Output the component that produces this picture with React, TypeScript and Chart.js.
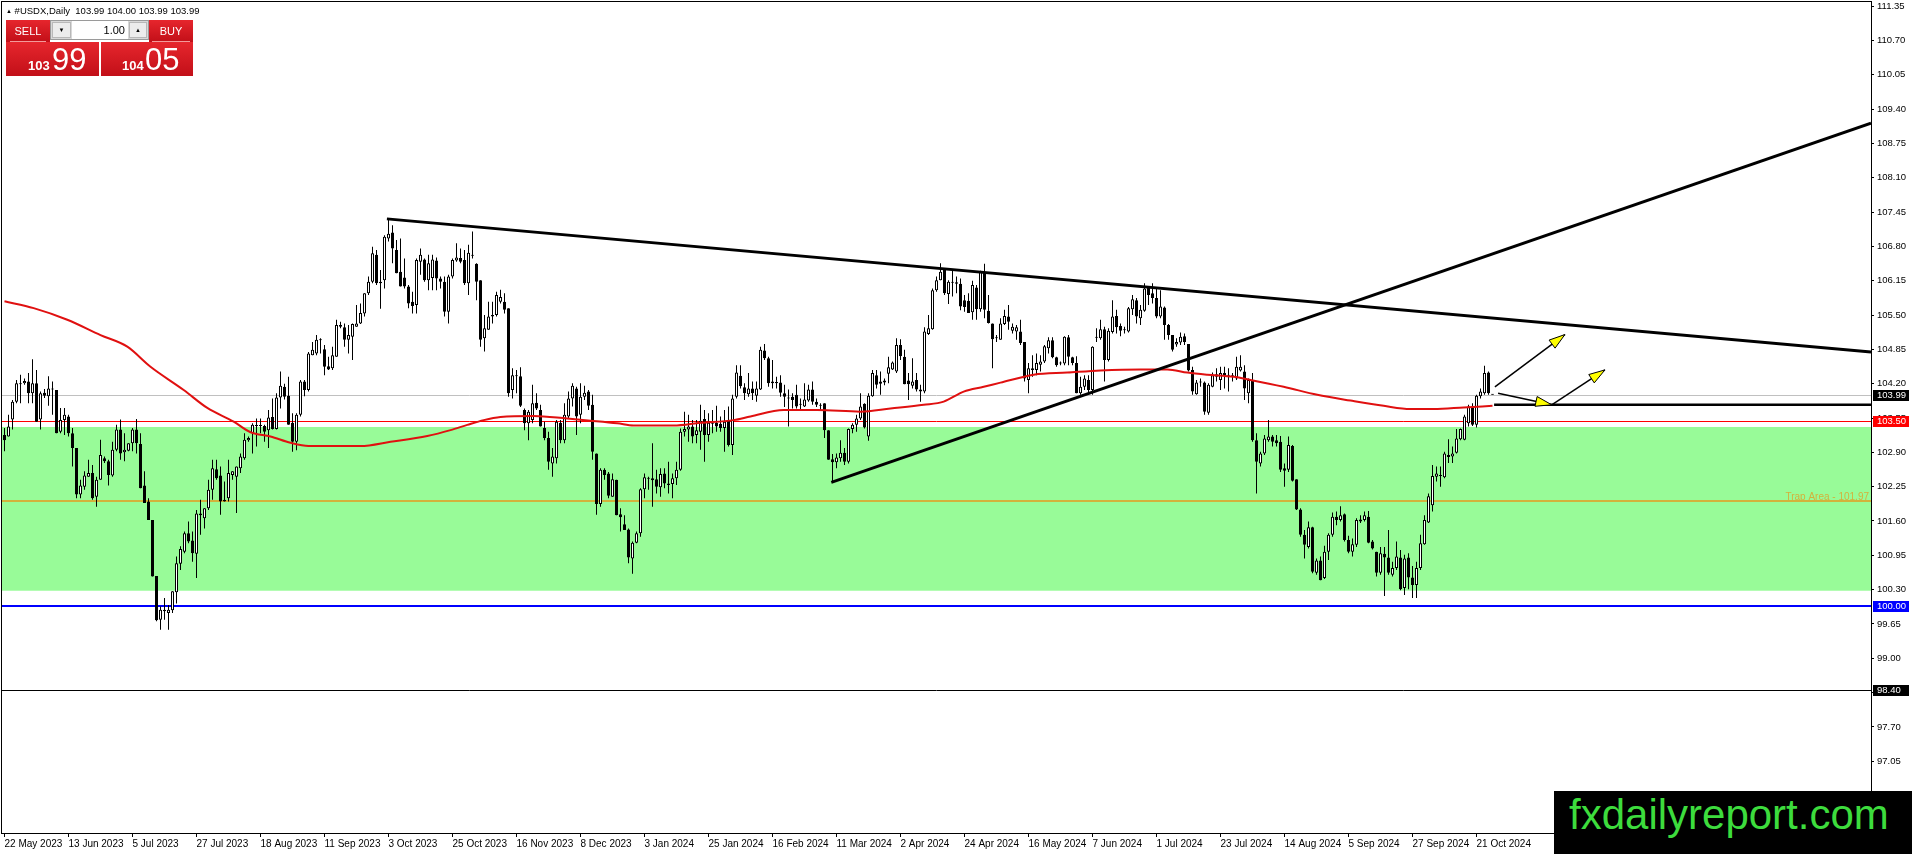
import { useEffect, useRef } from "react";
import { Chart, registerables } from "chart.js";

Chart.register(...registerables);

const FONT = '"Liberation Sans", Arial, sans-serif';

// header / quote panel
const symbolTitle = "#USDX,Daily";
const headerQuote = "103.99 104.00 103.99 103.99";
const lotSize = "1.00";
const bidBig = ["103", "99"];
const askBig = ["104", "05"];

// one label every 16 daily bars
const dateLabels = [
  "22 May 2023", "13 Jun 2023", "5 Jul 2023", "27 Jul 2023", "18 Aug 2023", "11 Sep 2023",
  "3 Oct 2023", "25 Oct 2023", "16 Nov 2023", "8 Dec 2023", "3 Jan 2024", "25 Jan 2024",
  "16 Feb 2024", "11 Mar 2024", "2 Apr 2024", "24 Apr 2024", "16 May 2024", "7 Jun 2024",
  "1 Jul 2024", "23 Jul 2024", "14 Aug 2024", "5 Sep 2024", "27 Sep 2024", "21 Oct 2024",
];
const barsPerLabel = 16;

const priceTicks = [
  111.35, 110.7, 110.05, 109.4, 108.75, 108.1, 107.45, 106.8, 106.15, 105.5, 104.85, 104.2,
  103.55, 102.9, 102.25, 101.6, 100.95, 100.3, 99.65, 99.0, 98.35, 97.7, 97.05, 96.4,
];

const opens = [
  103.23, 103.2, 103.52, 103.86, 104.19, 104.21, 104.24, 104.02, 104.21, 103.52,
  104.03, 103.96, 104.09, 104.08, 103.29, 103.51, 103.58, 103.26, 102.98, 102.1,
  102.25, 102.44, 102.51, 102.06, 102.38, 102.79, 102.73, 102.46, 102.95, 103.33,
  102.9, 102.93, 103.07, 103.33, 103.06, 102.27, 101.97, 101.62, 100.56, 99.73,
  99.89, 99.86, 99.91, 100.25, 100.79, 101.02, 101.37, 101.23, 100.98, 101.71,
  101.65, 101.84, 102.19, 102.58, 102.46, 101.97, 102.03, 102.47, 102.44, 102.6,
  102.79, 103.13, 103.26, 103.4, 103.4, 103.4, 103.32, 103.57, 103.34, 103.94,
  104.14, 103.97, 103.46, 103.1, 103.61, 104.24, 104.08, 104.74, 104.77, 105.02,
  104.85, 104.53, 104.49, 104.71, 105.31, 105.27, 105.03, 105.09, 105.28, 105.34,
  105.53, 105.91, 106.13, 106.64, 106.1, 106.16, 106.95, 107.06, 106.73, 106.32,
  106.21, 106.04, 105.75, 105.69, 106.51, 106.55, 106.16, 106.2, 106.53, 106.19,
  106.13, 105.56, 106.23, 106.53, 106.58, 106.54, 106.1, 106.64, 106.47, 106.16,
  105.06, 105.22, 105.5, 105.5, 105.75, 105.75, 105.63, 104.08, 104.35, 104.34,
  103.7, 103.45, 103.51, 103.84, 103.7, 103.36, 103.17, 102.69, 102.79, 103.46,
  103.13, 103.58, 103.92, 104.11, 103.61, 103.95, 104.05, 103.8, 102.88, 101.92,
  102.57, 102.5, 102.06, 102.38, 101.73, 101.54, 101.44, 100.89, 101.19, 101.37,
  102.2, 102.4, 102.37, 102.39, 102.24, 102.5, 102.31, 102.3, 102.41, 102.57,
  103.29, 103.33, 103.39, 103.23, 103.29, 103.53, 103.23, 103.46, 103.46, 103.44,
  103.36, 103.51, 103.04, 103.95, 104.35, 104.13, 104.0, 104.11, 103.97, 104.09,
  104.83, 104.68, 104.21, 104.23, 104.22, 104.02, 103.94, 103.95, 103.99, 103.8,
  103.77, 103.88, 104.09, 103.86, 103.8, 103.83, 103.32, 102.77, 102.71, 102.79,
  102.89, 102.72, 103.34, 103.42, 103.54, 103.82, 103.2, 103.96, 104.36, 104.24,
  104.22, 104.39, 104.47, 104.43, 104.93, 104.71, 104.26, 104.16, 104.27, 104.09,
  104.05, 105.14, 105.23, 105.97, 106.16, 106.35, 105.9, 106.13, 106.12, 106.09,
  105.78, 105.77, 105.55, 106.02, 105.61, 106.32, 105.58, 105.34, 105.06, 105.03,
  105.33, 105.47, 105.2, 105.19, 105.19, 104.99, 104.27, 104.46, 104.46, 104.56,
  104.62, 104.87, 105.02, 104.7, 104.58, 104.58, 105.08, 104.7, 104.59, 104.02,
  104.14, 104.27, 104.08, 105.07, 105.06, 105.23, 104.65, 105.18, 105.48, 105.29,
  105.21, 105.19, 105.61, 105.78, 105.44, 105.58, 106.02, 105.91, 105.82, 105.47,
  105.64, 105.31, 105.12, 104.94, 104.98, 105.1, 104.95, 104.46, 104.0, 104.22,
  104.22, 103.65, 104.14, 104.33, 104.27, 104.4, 104.35, 104.34, 104.3, 104.45,
  104.43, 104.02, 104.27, 103.13, 102.69, 102.88, 103.13, 103.2, 103.13, 103.1,
  102.6, 102.57, 103.02, 102.39, 101.82, 101.34, 101.11, 101.48, 100.62, 100.85,
  100.52, 101.02, 101.34, 101.68, 101.62, 101.73, 101.24, 101.02, 101.15, 101.59,
  101.62, 101.68, 101.21, 101.02, 100.62, 100.98, 100.91, 100.58, 100.71, 100.91,
  100.33, 100.91, 100.53, 100.39, 100.71, 101.16, 101.57, 101.9, 102.44, 102.45,
  102.43, 102.85, 102.82, 102.89, 103.15, 103.14, 103.45, 103.77, 103.42, 103.96,
  104.02, 104.41, 103.99,
];

const highs = [
  103.36, 103.61, 103.89, 104.27, 104.37, 104.3, 104.4, 104.66, 104.46, 104.05,
  104.1, 104.34, 104.24, 104.08, 103.74, 103.74, 103.61, 103.36, 102.98, 102.38,
  102.54, 102.76, 102.66, 102.44, 103.14, 102.82, 102.76, 103.1, 103.42, 103.52,
  103.26, 103.07, 103.36, 103.53, 103.26, 102.54, 102.03, 101.62, 100.56, 99.98,
  100.14, 100.01, 100.27, 100.93, 101.12, 101.4, 101.59, 101.4, 101.81, 102.0,
  101.84, 102.38, 102.76, 102.76, 102.63, 102.35, 102.76, 102.54, 102.63, 102.88,
  103.26, 103.2, 103.45, 103.54, 103.54, 103.42, 103.7, 103.92, 104.02, 104.43,
  104.2, 104.33, 103.64, 103.64, 104.27, 104.27, 104.8, 104.99, 105.12, 105.06,
  104.93, 104.71, 104.9, 105.41, 105.37, 105.34, 105.31, 105.34, 105.69, 105.72,
  105.91, 106.23, 106.79, 106.73, 106.35, 107.01, 107.3, 107.2, 106.92, 106.95,
  106.57, 106.07, 105.94, 106.57, 106.76, 106.57, 106.64, 106.64, 106.59, 106.23,
  106.23, 106.26, 106.57, 106.86, 106.76, 106.73, 106.83, 107.08, 106.48, 106.16,
  105.5, 105.75, 105.75, 105.94, 105.98, 105.91, 105.63, 104.49, 104.46, 104.51,
  103.73, 103.7, 104.18, 104.02, 103.8, 103.48, 103.29, 102.98, 103.51, 103.51,
  103.83, 104.05, 104.21, 104.14, 104.21, 104.16, 104.08, 103.99, 102.88, 102.6,
  102.6, 102.53, 102.5, 102.38, 101.84, 101.71, 101.46, 101.21, 101.4, 102.22,
  102.5, 102.44, 103.07, 102.57, 102.6, 102.6, 102.72, 102.5, 102.72, 103.35,
  103.67, 103.61, 103.51, 103.51, 103.8, 103.7, 103.64, 103.7, 103.78, 103.58,
  103.7, 103.77, 103.99, 104.55, 104.55, 104.21, 104.4, 104.24, 104.24, 104.9,
  104.95, 104.71, 104.65, 104.33, 104.36, 104.18, 104.09, 104.02, 104.18, 103.92,
  104.21, 104.18, 104.24, 103.92, 103.83, 103.83, 103.32, 102.87, 102.88, 103.13,
  102.98, 103.35, 103.45, 103.61, 104.02, 103.83, 104.02, 104.46, 104.46, 104.43,
  104.3, 104.71, 104.62, 105.06, 105.04, 104.84, 104.4, 104.68, 104.4, 104.18,
  105.27, 105.5, 106.0, 106.23, 106.48, 106.38, 106.16, 106.37, 106.23, 106.19,
  105.88, 105.91, 106.15, 106.07, 106.34, 106.47, 105.88, 105.34, 105.12, 105.44,
  105.6, 105.69, 105.34, 105.31, 105.41, 104.99, 104.59, 104.74, 104.77, 104.74,
  104.93, 105.08, 105.08, 104.71, 104.62, 105.1, 105.12, 104.71, 104.72, 104.33,
  104.36, 104.36, 104.91, 105.25, 105.41, 105.28, 105.25, 105.78, 105.6, 105.34,
  105.28, 105.65, 105.88, 105.82, 105.69, 106.1, 106.05, 106.1, 106.0, 105.97,
  105.66, 105.33, 105.12, 105.06, 105.17, 105.15, 104.95, 104.52, 104.27, 104.3,
  104.24, 104.21, 104.41, 104.49, 104.52, 104.52, 104.49, 104.4, 104.71, 104.74,
  104.55, 104.3, 104.4, 103.26, 102.91, 103.23, 103.51, 103.23, 103.23, 103.21,
  102.69, 103.2, 103.04, 102.39, 101.84, 101.43, 101.59, 101.49, 100.89, 100.93,
  101.13, 101.37, 101.76, 101.78, 101.88, 101.74, 101.32, 101.27, 101.65, 101.71,
  101.78, 101.79, 101.24, 101.02, 101.11, 101.11, 101.43, 100.83, 101.21, 101.05,
  100.96, 100.99, 100.75, 100.83, 101.34, 101.71, 102.12, 102.66, 102.63, 102.63,
  102.91, 103.15, 103.01, 103.34, 103.35, 103.61, 103.8, 103.83, 103.99, 104.11,
  104.54, 104.43, 104.0,
];

const lows = [
  102.92, 103.2, 103.33, 103.83, 103.83, 104.18, 103.83, 103.83, 103.48, 103.33,
  103.93, 103.78, 103.61, 103.26, 103.26, 103.23, 103.2, 102.63, 102.03, 102.03,
  102.19, 102.44, 102.0, 101.87, 102.38, 102.7, 102.27, 102.44, 102.92, 102.76,
  102.73, 102.92, 102.92, 102.88, 102.22, 101.94, 101.62, 100.55, 99.7, 99.54,
  99.73, 99.54, 99.86, 100.04, 100.67, 100.99, 101.18, 100.83, 100.52, 101.34,
  101.46, 101.81, 102.0, 102.38, 101.72, 101.97, 101.97, 102.38, 101.75, 102.51,
  102.76, 103.1, 102.88, 103.01, 103.26, 103.1, 102.98, 103.33, 103.33, 103.73,
  103.9, 103.42, 102.91, 102.94, 103.58, 103.96, 104.05, 104.74, 104.74, 104.77,
  104.36, 104.46, 104.46, 104.71, 105.25, 104.9, 104.77, 104.65, 105.28, 105.33,
  105.47, 105.88, 106.1, 106.07, 105.62, 106.0, 106.89, 106.48, 106.29, 106.04,
  106.0, 105.63, 105.53, 105.53, 106.26, 106.13, 105.97, 105.97, 105.97, 106.0,
  105.47, 105.34, 106.19, 106.51, 106.48, 106.07, 105.88, 106.57, 105.78, 104.9,
  104.81, 105.22, 105.34, 105.47, 105.72, 105.53, 103.95, 103.92, 104.02, 103.76,
  103.32, 103.13, 103.45, 103.7, 103.39, 103.13, 102.57, 102.44, 102.69, 103.07,
  103.07, 103.54, 103.77, 103.23, 103.45, 103.89, 103.7, 102.76, 101.72, 101.87,
  102.38, 102.03, 102.06, 101.71, 101.4, 101.43, 100.8, 100.6, 101.18, 101.3,
  102.03, 102.19, 101.87, 102.12, 102.06, 102.22, 102.12, 102.03, 102.28, 102.55,
  103.2, 103.1, 103.07, 103.07, 102.95, 102.72, 103.1, 103.26, 103.29, 103.29,
  102.91, 103.01, 102.85, 103.92, 104.11, 103.89, 103.95, 103.89, 103.86, 104.08,
  104.65, 104.14, 104.11, 104.11, 103.95, 103.76, 103.39, 103.73, 103.73, 103.7,
  103.76, 103.86, 103.8, 103.76, 103.7, 103.17, 102.76, 102.33, 102.6, 102.72,
  102.66, 102.69, 103.26, 103.29, 103.51, 103.35, 103.12, 103.95, 104.11, 103.99,
  104.17, 104.21, 104.46, 104.4, 104.65, 104.19, 103.89, 104.11, 104.05, 103.86,
  104.02, 105.12, 105.22, 105.94, 106.16, 105.88, 105.71, 105.85, 105.91, 105.59,
  105.56, 105.54, 105.41, 105.41, 105.56, 105.44, 105.34, 104.49, 104.99, 105.03,
  105.31, 105.22, 105.15, 105.03, 104.93, 104.24, 104.02, 104.33, 104.36, 104.43,
  104.59, 104.77, 104.68, 104.52, 104.55, 104.55, 104.55, 104.55, 104.02, 103.99,
  104.08, 104.02, 103.99, 104.99, 105.03, 104.24, 104.62, 105.15, 105.15, 105.1,
  105.15, 105.17, 105.5, 105.34, 105.31, 105.56, 105.69, 105.72, 105.44, 105.44,
  105.03, 105.03, 104.81, 104.9, 104.93, 104.93, 104.43, 103.99, 103.99, 104.14,
  103.61, 103.61, 104.13, 104.24, 104.08, 104.11, 104.05, 104.24, 104.27, 104.43,
  103.89, 103.83, 103.1, 102.12, 102.63, 102.85, 103.1, 103.01, 103.01, 102.53,
  102.25, 102.53, 102.35, 101.81, 101.3, 100.89, 101.08, 100.61, 100.58, 100.48,
  100.5, 100.86, 101.3, 101.52, 101.59, 101.21, 100.99, 100.93, 101.11, 101.56,
  101.59, 101.18, 101.06, 100.55, 100.58, 100.18, 100.58, 100.55, 100.67, 100.29,
  100.2, 100.31, 100.14, 100.14, 100.67, 101.15, 101.56, 101.78, 102.35, 102.25,
  102.41, 102.7, 102.7, 102.88, 103.13, 103.13, 103.39, 103.4, 103.37, 103.92,
  103.99, 103.99, 103.99,
];

const closes = [
  103.13, 103.39, 103.86, 104.21, 104.2, 104.25, 104.02, 104.21, 103.48, 104.02,
  103.97, 104.11, 104.1, 103.26, 103.51, 103.61, 103.26, 102.98, 102.1, 102.27,
  102.46, 102.51, 102.03, 102.38, 102.85, 102.73, 102.47, 102.95, 103.33, 102.88,
  102.95, 103.07, 103.33, 103.07, 102.22, 101.94, 101.62, 100.55, 99.72, 99.92,
  99.92, 99.92, 100.27, 100.8, 101.07, 101.37, 101.21, 100.99, 101.74, 101.74,
  101.84, 102.19, 102.6, 102.41, 101.97, 102.0, 102.51, 102.54, 102.63, 102.82,
  103.14, 103.17, 103.42, 103.41, 103.4, 103.29, 103.56, 103.34, 103.94, 104.16,
  103.95, 103.42, 103.1, 103.61, 104.24, 104.08, 104.77, 104.84, 105.03, 105.04,
  104.52, 104.47, 104.74, 105.31, 105.28, 105.03, 105.12, 105.33, 105.34, 105.54,
  105.91, 106.13, 106.67, 106.1, 106.13, 106.98, 107.04, 106.76, 106.29, 106.04,
  106.04, 105.72, 105.67, 106.54, 106.64, 106.16, 106.48, 106.55, 106.19, 106.13,
  105.56, 106.23, 106.54, 106.59, 106.51, 106.1, 106.68, 106.62, 106.13, 105.03,
  105.25, 105.47, 105.47, 105.88, 105.84, 105.6, 104.02, 104.36, 104.34, 103.78,
  103.45, 103.67, 103.83, 103.73, 103.39, 103.17, 102.72, 102.82, 103.48, 103.13,
  103.61, 103.92, 104.16, 103.58, 103.95, 104.03, 103.78, 102.91, 101.92, 102.57,
  102.47, 102.08, 102.39, 101.71, 101.67, 101.43, 100.91, 101.19, 101.37, 102.2,
  102.43, 102.41, 102.41, 102.25, 102.49, 102.31, 102.28, 102.41, 102.57, 103.29,
  103.34, 103.39, 103.2, 103.32, 103.5, 103.23, 103.46, 103.44, 103.39, 103.36,
  103.48, 103.04, 103.92, 104.41, 104.15, 104.02, 104.11, 104.02, 104.11, 104.84,
  104.68, 104.21, 104.24, 104.21, 104.03, 103.95, 103.92, 103.89, 103.77, 103.8,
  103.9, 104.09, 103.86, 103.8, 103.78, 103.32, 102.76, 102.71, 102.8, 102.89,
  102.72, 103.34, 103.42, 103.54, 103.77, 103.37, 103.97, 104.4, 104.18, 104.2,
  104.26, 104.51, 104.6, 104.93, 104.72, 104.19, 104.19, 104.24, 104.09, 104.05,
  105.19, 105.25, 105.97, 106.16, 106.32, 105.91, 106.13, 106.11, 106.09, 105.66,
  105.65, 105.54, 106.07, 105.61, 106.32, 105.6, 105.35, 105.04, 105.06, 105.34,
  105.48, 105.37, 105.28, 105.27, 104.97, 104.3, 104.49, 104.49, 104.59, 104.62,
  104.91, 105.02, 104.7, 104.55, 104.59, 105.09, 104.71, 104.59, 104.02, 104.14,
  104.3, 104.08, 104.9, 105.08, 105.23, 104.65, 105.2, 105.47, 105.27, 105.2,
  105.22, 105.63, 105.8, 105.47, 105.6, 106.0, 105.88, 105.82, 105.47, 105.66,
  105.31, 105.12, 104.84, 104.99, 105.09, 104.99, 104.45, 104.05, 104.22, 104.23,
  103.67, 104.18, 104.36, 104.38, 104.4, 104.35, 104.37, 104.35, 104.52, 104.52,
  104.11, 104.27, 103.13, 102.72, 102.88, 103.16, 103.2, 103.1, 103.07, 102.57,
  102.55, 103.04, 102.36, 101.82, 101.34, 101.15, 101.48, 100.64, 100.85, 100.48,
  101.02, 101.34, 101.68, 101.62, 101.71, 101.24, 101.02, 101.16, 101.62, 101.63,
  101.71, 101.19, 101.08, 100.62, 100.99, 100.91, 100.62, 100.71, 100.93, 100.31,
  100.89, 100.53, 100.39, 100.71, 101.18, 101.62, 102.07, 102.45, 102.5, 102.47,
  102.88, 102.81, 102.88, 103.16, 103.34, 103.58, 103.77, 103.42, 103.97, 104.05,
  104.4, 104.02, 103.99,
];

// moving average (red), read at a few bar positions
const maBars = [
  0, 7.3, 15.7, 24, 30.7, 36.5, 44.8, 50.7, 57.3, 61.5, 66.5, 71.5, 76, 89, 96.5, 105.7, 111.5,
  115.7, 119.8, 124, 132.3, 140.7, 146.5, 153.2, 157.3, 167.3, 174, 182.3, 186.5, 194.8, 203.2,
  214, 221.5, 229.8, 234.8, 239.8, 244.8, 249, 257.3, 265.7, 274, 284, 290.7, 295.7, 300.7,
  307.3, 311.5, 319.8, 328.2, 336.5, 344.8, 351.5, 357.3, 364.8, 372,
];
const maValues = [
  105.76, 105.63, 105.41, 105.12, 104.9, 104.52, 104.08, 103.74, 103.48, 103.28, 103.2, 103.08,
  103.02, 103.02, 103.1, 103.21, 103.32, 103.42, 103.51, 103.57, 103.59, 103.54, 103.5, 103.45,
  103.41, 103.41, 103.46, 103.51, 103.58, 103.7, 103.7, 103.67, 103.73, 103.8, 103.86, 104.05,
  104.14, 104.22, 104.37, 104.41, 104.45, 104.47, 104.47, 104.41, 104.37, 104.33, 104.27, 104.14,
  103.99, 103.88, 103.78, 103.72, 103.72, 103.75, 103.78,
];

// drawn objects: [bar, price]
const xMin = -0.625;
const xMax = 466.625;
const resistanceLine = [[95.6, 107.32], [xMax, 104.8]];
const supportLine = [[206.7, 102.33], [xMax, 109.13]];
const entryLine = [[372.4, 103.8], [xMax, 103.8]];
const arrows = [
  [[372.6, 104.14], [390.1, 105.13]],
  [[373.4, 104.02], [386.8, 103.8]],
  [[386.8, 103.8], [400.1, 104.46]],
];

const bidPrice = 103.99;
const resistanceLevel = 103.5;
const trapLevel = 101.97;
const parityLevel = 100.0;
const supportLevel = 98.4;
const zoneTop = 103.38;
const zoneBottom = 100.28;

const trapColor = "#d2b23c";

const overlayPlugin = {
  id: "overlay",
  beforeDatasetsDraw(chart: any) {
    const { ctx, chartArea: a, scales } = chart;
    const y = scales.y;
    ctx.save();
    ctx.beginPath();
    ctx.rect(a.left, a.top, a.right - a.left, a.bottom - a.top);
    ctx.clip();
    const zt = y.getPixelForValue(zoneTop);
    const zb = y.getPixelForValue(zoneBottom);
    ctx.fillStyle = "#98fb98";
    ctx.fillRect(a.left, zt, a.right - a.left, zb - zt);
    const hline = (v: number, color: string, w: number) => {
      const py = Math.round(y.getPixelForValue(v)) + (w % 2 ? 0.5 : 0);
      ctx.strokeStyle = color;
      ctx.lineWidth = w;
      ctx.beginPath();
      ctx.moveTo(a.left, py);
      ctx.lineTo(a.right, py);
      ctx.stroke();
    };
    hline(bidPrice, "#c0c0c0", 1);
    hline(resistanceLevel, "#ff0000", 1);
    hline(trapLevel, trapColor, 2);
    hline(parityLevel, "#0000ff", 2);
    hline(supportLevel, "#000000", 1);
    ctx.fillStyle = trapColor;
    ctx.font = `10px ${FONT}`;
    ctx.textAlign = "right";
    ctx.textBaseline = "alphabetic";
    ctx.fillText(`Trap Area - ${trapLevel.toFixed(2)}`, a.right - 2, y.getPixelForValue(trapLevel) - 1.5);
    ctx.restore();
  },
  afterDatasetsDraw(chart: any) {
    const { ctx, scales } = chart;
    const { x, y } = scales;
    ctx.save();
    arrows.forEach(([p0, p1]) => {
      const x0 = x.getPixelForValue(p0[0]);
      const y0 = y.getPixelForValue(p0[1]);
      const x1 = x.getPixelForValue(p1[0]);
      const y1 = y.getPixelForValue(p1[1]);
      const ang = Math.atan2(y1 - y0, x1 - x0);
      const L = 16;
      const W = 5;
      const bx = x1 - L * Math.cos(ang);
      const by = y1 - L * Math.sin(ang);
      ctx.beginPath();
      ctx.moveTo(x1, y1);
      ctx.lineTo(bx + W * Math.sin(ang), by - W * Math.cos(ang));
      ctx.lineTo(bx - W * Math.sin(ang), by + W * Math.cos(ang));
      ctx.closePath();
      ctx.fillStyle = "#ffff00";
      ctx.fill();
      ctx.strokeStyle = "#000";
      ctx.lineWidth = 1;
      ctx.stroke();
    });
    ctx.restore();
  },
  afterDraw(chart: any) {
    const { ctx, chartArea: a, scales } = chart;
    const y = scales.y;
    ctx.save();
    ctx.strokeStyle = "#000";
    ctx.lineWidth = 1;
    ctx.strokeRect(a.left - 0.5, a.top - 0.5, a.right - a.left + 1, a.bottom - a.top + 1);
    const markers: [number, string][] = [
      [bidPrice, "#000000"],
      [resistanceLevel, "#ff0000"],
      [parityLevel, "#0000ff"],
      [supportLevel, "#000000"],
    ];
    ctx.font = `9.5px ${FONT}`;
    ctx.textAlign = "left";
    ctx.textBaseline = "middle";
    markers.forEach(([v, bg]) => {
      const py = Math.round(y.getPixelForValue(v));
      ctx.fillStyle = bg;
      ctx.fillRect(a.right + 2, py - 5, 36, 11);
      ctx.fillStyle = "#fff";
      ctx.fillText(v.toFixed(2), a.right + 6, py + 0.5);
    });
    ctx.restore();
  },
};

const redGrad = "linear-gradient(#e6262d, #c20f18)";

export default function App() {
  const canvasRef = useRef<HTMLCanvasElement>(null);

  useEffect(() => {
    const canvas = canvasRef.current;
    if (!canvas) return;

    const pts = (pairs: number[][]) => pairs.map(([px, py]) => ({ x: px, y: py }));
    const bodies = closes.map((c, i) => ({ x: i, y: [Math.min(opens[i], c), Math.max(opens[i], c)] }));
    const wicks = closes.map((_, i) => ({ x: i, y: [lows[i], highs[i]] }));
    const bodyColors = closes.map((c, i) => (c >= opens[i] ? "#ffffff" : "#000000"));
    const ma = maBars.map((b, i) => ({ x: b, y: maValues[i] }));

    const lineDs = (data: any, color: string, width: number, order: number) => ({
      type: "line" as const,
      data,
      borderColor: color,
      borderWidth: width,
      pointRadius: 0,
      fill: false,
      order,
    });

    const chart = new Chart(canvas, {
      type: "line",
      data: {
        datasets: [
          lineDs(pts(resistanceLine), "#000", 3, 0),
          lineDs(pts(supportLine), "#000", 3, 0),
          lineDs(pts(entryLine), "#000", 2.5, 1),
          ...arrows.map((a) => lineDs(pts(a), "#000", 1.5, 1)),
          { ...lineDs(ma, "#e01010", 2, 2), cubicInterpolationMode: "monotone" },
          {
            type: "bar",
            data: bodies,
            backgroundColor: bodyColors,
            borderColor: "#000",
            borderWidth: 1,
            borderSkipped: false,
            barThickness: 3,
            grouped: false,
            minBarLength: 1,
            inflateAmount: 0,
            order: 3,
          },
          {
            type: "bar",
            data: wicks,
            backgroundColor: "#000",
            borderWidth: 0,
            barThickness: 1,
            grouped: false,
            inflateAmount: 0,
            order: 4,
          },
        ] as any,
      },
      options: {
        animation: false,
        responsive: false,
        devicePixelRatio: 1,
        events: [],
        layout: { padding: { top: 2, left: 2, right: 0, bottom: 0 } },
        plugins: { legend: { display: false }, tooltip: { enabled: false } },
        scales: {
          x: {
            type: "linear",
            min: xMin,
            max: xMax,
            offset: false,
            afterBuildTicks: (s: any) => {
              s.ticks = dateLabels.map((_, i) => ({ value: i * barsPerLabel }));
            },
            afterFit: (s: any) => {
              s.height = 21;
              s.paddingLeft = 0;
              s.paddingRight = 0;
            },
            grid: { drawOnChartArea: false, drawTicks: true, tickLength: 4, color: "#000", offset: false },
            border: { display: true, color: "#000" },
            ticks: {
              autoSkip: false,
              maxRotation: 0,
              align: "start",
              padding: 1,
              color: "#000",
              font: { family: FONT, size: 10 },
              callback: (_v: any, i: number) => dateLabels[i],
            },
          },
          y: {
            type: "linear",
            position: "right",
            min: 95.693,
            max: 111.426,
            afterBuildTicks: (s: any) => {
              s.ticks = priceTicks.map((v) => ({ value: v }));
            },
            afterFit: (s: any) => {
              s.width = 41;
              s.paddingTop = 0;
              s.paddingBottom = 0;
            },
            grid: { drawOnChartArea: false, drawTicks: true, tickLength: 3, color: "#000" },
            border: { display: true, color: "#000" },
            ticks: {
              autoSkip: false,
              padding: 3,
              color: "#000",
              font: { family: FONT, size: 9.5 },
              callback: (v: any) => Number(v).toFixed(2),
            },
          },
        },
      } as any,
      plugins: [overlayPlugin],
    });

    return () => chart.destroy();
  }, []);

  const btnText = { position: "absolute" as const, color: "#fff", fontSize: 11, lineHeight: "11px" };

  return (
    <div
      style={{
        position: "absolute",
        left: 0,
        top: 0,
        width: 1912,
        height: 854,
        background: "#fff",
        overflow: "hidden",
        fontFamily: FONT,
      }}
    >
      <canvas ref={canvasRef} width={1912} height={854} style={{ position: "absolute", left: 0, top: 0 }} />

      {/* symbol header */}
      <div style={{ position: "absolute", left: 6, top: 5, fontSize: 9.5, lineHeight: "12px", whiteSpace: "pre", color: "#000" }}>
        <span style={{ fontSize: 6, verticalAlign: "1px" }}>▲</span> {symbolTitle}  {headerQuote}
      </div>

      {/* one click trading panel */}
      <div style={{ position: "absolute", left: 6, top: 20, width: 44, height: 22, background: redGrad }} />
      <div style={{ position: "absolute", left: 10, top: 41, width: 36, height: 1, background: "#f39a9a" }} />
      <div style={{ ...btnText, left: 6, top: 26, width: 44, textAlign: "center" }}>SELL</div>

      <div style={{ position: "absolute", left: 149, top: 20, width: 44, height: 22, background: redGrad }} />
      <div style={{ position: "absolute", left: 152, top: 41, width: 38, height: 1, background: "#f39a9a" }} />
      <div style={{ ...btnText, left: 149, top: 26, width: 44, textAlign: "center" }}>BUY</div>

      <div style={{ position: "absolute", left: 50, top: 20, width: 99, height: 20, background: "#d8d8d8", boxSizing: "border-box", border: "1px solid #9a9a9a" }} />
      <div style={{ position: "absolute", left: 52, top: 22, width: 19, height: 16, background: "#ececec", border: "1px solid #b8b8b8", boxSizing: "border-box", fontSize: 6, textAlign: "center", lineHeight: "15px" }}>▼</div>
      <div style={{ position: "absolute", left: 72, top: 21, width: 56, height: 18, background: "#fff" }} />
      <div style={{ position: "absolute", left: 72, top: 24, width: 53, textAlign: "right", fontSize: 11, lineHeight: "12px", color: "#000" }}>{lotSize}</div>
      <div style={{ position: "absolute", left: 129, top: 22, width: 18, height: 16, background: "#ececec", border: "1px solid #b8b8b8", boxSizing: "border-box", fontSize: 6, textAlign: "center", lineHeight: "15px" }}>▲</div>

      <div style={{ position: "absolute", left: 6, top: 42, width: 93, height: 34, background: redGrad }} />
      <div style={{ position: "absolute", left: 101, top: 42, width: 92, height: 34, background: redGrad }} />
      <div style={{ position: "absolute", left: 28, top: 59, color: "#fff", fontSize: 13, fontWeight: "bold", lineHeight: "13px" }}>{bidBig[0]}</div>
      <div style={{ position: "absolute", left: 52, top: 44, color: "#fff", fontSize: 31, lineHeight: "31px" }}>{bidBig[1]}</div>
      <div style={{ position: "absolute", left: 122, top: 59, color: "#fff", fontSize: 13, fontWeight: "bold", lineHeight: "13px" }}>{askBig[0]}</div>
      <div style={{ position: "absolute", left: 145, top: 44, color: "#fff", fontSize: 31, lineHeight: "31px" }}>{askBig[1]}</div>

      {/* watermark */}
      <div style={{ position: "absolute", left: 1554, top: 791, width: 358, height: 63, background: "#000" }}>
        <div style={{ position: "absolute", left: 15, top: 3, fontSize: 42, lineHeight: "42px", color: "#3ddc3d", whiteSpace: "nowrap" }}>
          fxdailyreport.com
        </div>
      </div>
    </div>
  );
}
